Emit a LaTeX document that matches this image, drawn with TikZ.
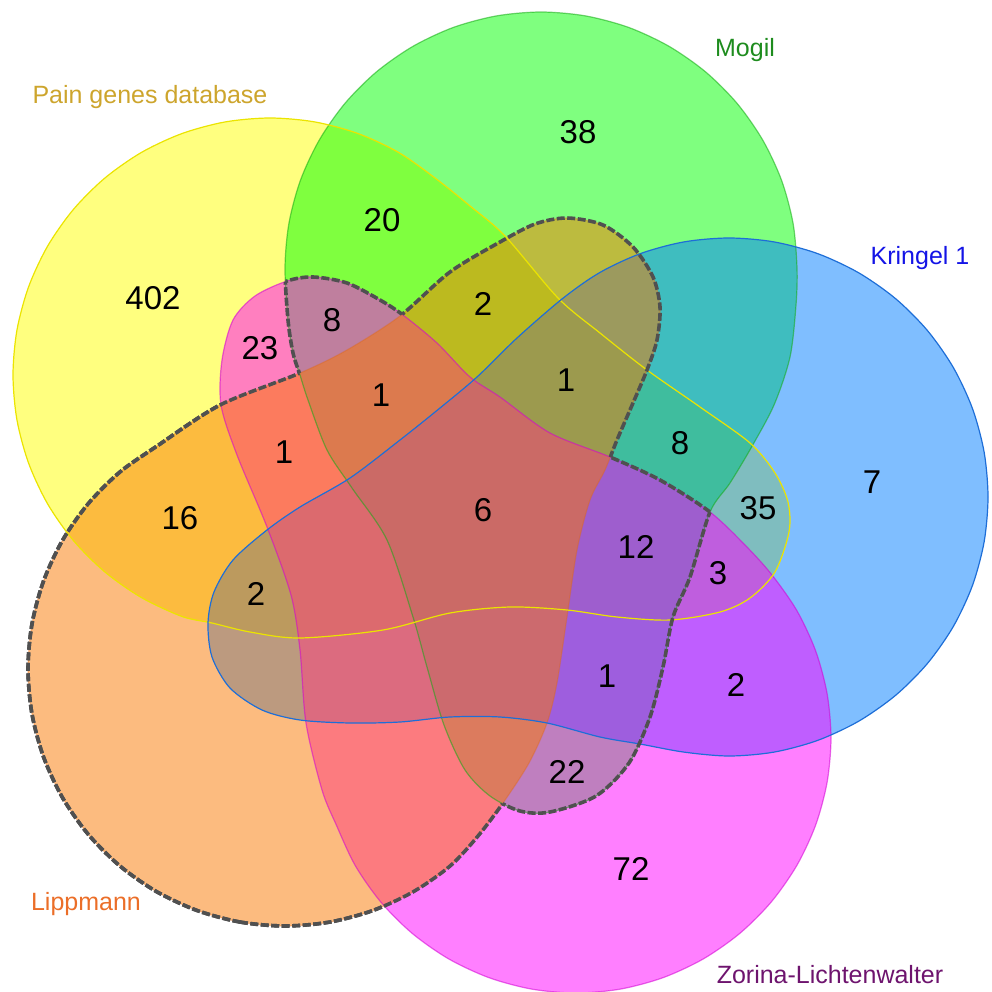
\documentclass[tikz,border=0pt]{standalone}
\usepackage{fontspec}
\setmainfont{Liberation Sans}
% set fills
\definecolor{cY}{RGB}{255,255,0}
\definecolor{cG}{RGB}{0,255,0}
\definecolor{cB}{RGB}{0,125,255}
\definecolor{cM}{RGB}{255,0,255}
\definecolor{cO}{RGB}{250,120,0}
% set outlines
\definecolor{lY}{RGB}{235,228,0}
\definecolor{lG}{RGB}{20,170,20}
\definecolor{lB}{RGB}{30,110,215}
\definecolor{lM}{RGB}{210,0,210}
\definecolor{lO}{RGB}{220,100,20}
\definecolor{hl}{RGB}{80,80,80}
% set titles
\definecolor{tY}{RGB}{205,165,45}
\definecolor{tG}{RGB}{30,140,30}
\definecolor{tB}{RGB}{20,20,230}
\definecolor{tO}{RGB}{235,110,40}
\definecolor{tM}{RGB}{110,20,110}
% outlines of the five sets: a round body with a lobe reaching across the middle
\newcommand\painpath{plot[smooth cycle] coordinates {
    (182.1,616.5) (141.5,597.6) (104.8,571.9) (73.1,540.2) (47.4,503.5)
    (28.5,462.9) (16.9,419.6) (13,375) (16.9,330.4) (28.5,287.1) (47.4,246.5)
    (73.1,209.8) (104.8,178.1) (141.5,152.4) (182.1,133.5) (225.4,121.9)
    (270,118) (314.6,121.9) (357.9,133.5) (398.5,152.4) (435.2,178.1)
    (470,206) (505,236) (558,298) (600,333) (647,370) (700,407) (750,443)
    (775,473) (788,502) (789,532) (775,572) (750,598) (720,612) (670,620)
    (617,617) (567,610) (510,607) (450,613) (383,630) (300,638) (250,632)
    (212,623)}}
\newcommand\mogilpath{plot[smooth cycle] coordinates {
    (541,12) (585.5,15.9) (628.6,27.4) (669,46.3) (705.6,71.9) (737.1,103.4)
    (762.7,140) (781.6,180.4) (793.1,223.5) (797,268) (796,305)
    (790,357) (774,405) (751,448) (730,483) (710,512) (690,577) (673,617)
    (663,667) (650,717) (629,763) (596,796) (550,812) (520,811) (490,796)
    (465,770) (444,725) (427,667) (413,617) (387,540) (352,488) (327,450)
    (308,400) (300,375) (293,353) (288,320) (285,268) (288.9,223.5)
    (300.4,180.4) (319.3,140) (344.9,103.4) (376.4,71.9) (413,46.3)
    (453.4,27.4) (496.5,15.9)}}
\newcommand\kringelpath{plot[smooth cycle] coordinates {
    (729,238) (774,241.9) (817.6,253.6) (858.5,272.7) (895.5,298.6)
    (927.4,330.5) (953.3,367.5) (972.4,408.4) (984.1,452) (988,497)
    (984.1,542) (972.4,585.6) (953.3,626.5) (927.4,663.5) (895.5,695.4)
    (858.5,721.3) (817.6,740.4) (774,752.1) (729,756) (684,752.1) (640,744)
    (600,737) (547,723) (500,717) (450,717) (400,722) (350,723) (300,720)
    (262,710) (230,688) (212,657) (208,623) (214,592) (233,560) (267,530)
    (300,507) (350,478) (400,440) (440,408) (477,377) (517,338) (562.5,298.6)
    (599.5,272.7) (640.4,253.6) (684,241.9)}}
\newcommand\zorinapath{plot[smooth cycle] coordinates {
    (831,738) (827.1,693.7) (815.6,650.8) (796.8,610.5) (771.3,574.1)
    (745,545) (710,512) (660,480) (610,457) (550,433) (500,397) (470,377)
    (437,343) (403,315) (380,300) (347,283) (313,277) (287,281) (255,296)
    (233,320) (222,360) (221,405) (237,455) (267,527) (291,595) (300,650)
    (306,723) (322,790) (336.4,825.2) (355.2,865.5) (380.7,901.9)
    (412.1,933.3) (448.5,958.8) (488.8,977.6) (531.7,989.1) (576,993)
    (620.3,989.1) (663.2,977.6) (703.5,958.8) (739.9,933.3) (771.3,901.9)
    (796.8,865.5) (815.6,825.2) (827.1,782.3)}}
\newcommand\lipppath{plot[smooth cycle] coordinates {
    (285,926) (240.4,922.1) (197.1,910.5) (156.5,891.6) (119.8,865.9)
    (88.1,834.2) (62.4,797.5) (43.5,756.9) (31.9,713.6) (28,669) (31.9,624.4)
    (43.5,581.1) (62.4,540.5) (88.1,503.8) (119.8,472.1) (156.5,446.4)
    (220,405) (300,373) (347,350) (400,316) (450,272) (500,242) (535,224)
    (567,218) (603,225) (633,247) (653,277) (660,307) (657,340) (647,370)
    (633,403) (617,440) (605,470) (590,500) (577,550) (567,617) (557,683)
    (547,723) (529,763) (503,803) (478,836) (450.2,865.9) (413.5,891.6)
    (372.9,910.5) (329.6,922.1)}}
\newcommand\outerframe{(-60,-60) rectangle (1060,1060)}
\begin{document}
\begin{tikzpicture}[x=1pt,y=-1pt,
  setfill/.style={fill=#1, fill opacity=0.5},
  outline/.style={draw=#1, line width=1.2pt},
  hlline/.style={draw=hl, line width=3.6pt, dash pattern=on 8pt off 2.5pt},
  num/.style={font=\fontsize{33}{37}\selectfont, text=black, inner sep=0pt},
  title/.style={font=\fontsize{25}{30}\selectfont, inner sep=0pt},
]
\useasboundingbox (0,0) rectangle (992,992);

% translucent set areas
\path[setfill=cY] \painpath;
\path[setfill=cG] \mogilpath;
\path[setfill=cB] \kringelpath;
\path[setfill=cM] \zorinapath;
\path[setfill=cO] \lipppath;

% thin set outlines
\path[outline=lG, draw opacity=0.55] \mogilpath;
\path[outline=lM, draw opacity=0.55] \zorinapath;
\path[outline=lO, draw opacity=0.35] \lipppath;
\path[outline=lY] \painpath;
\path[outline=lB] \kringelpath;

% dashed outline of Lippmann together with Mogil and Zorina-Lichtenwalter
\begin{scope}[even odd rule]
  \clip \outerframe \mogilpath;
  \path[hlline] \lipppath;
\end{scope}
\begin{scope}[even odd rule]
  \clip \outerframe \zorinapath;
  \path[hlline] \lipppath;
\end{scope}
\begin{scope}
  \clip \zorinapath;
  \begin{scope}[even odd rule]
    \clip \outerframe \lipppath;
    \path[hlline] \mogilpath;
  \end{scope}
\end{scope}
\begin{scope}
  \clip \mogilpath;
  \begin{scope}[even odd rule]
    \clip \outerframe \lipppath;
    \path[hlline] \zorinapath;
  \end{scope}
\end{scope}

% region counts
\node[num] (n38)  at (578,132) {38};
\node[num] (n402) at (153,298) {402};
\node[num] (n20)  at (382,220) {20};
\node[num] (n2a)  at (483,304) {2};
\node[num] (n7)   at (872,482) {7};
\node[num] (n8a)  at (332,320) {8};
\node[num] (n23)  at (260,348) {23};
\node[num] (n1a)  at (381,395) {1};
\node[num] (n1b)  at (566,380) {1};
\node[num] (n1c)  at (284,452) {1};
\node[num] (n8b)  at (680,443) {8};
\node[num] (n16)  at (180,518) {16};
\node[num] (n6)   at (483,510) {6};
\node[num] (n35)  at (758,508) {35};
\node[num] (n12)  at (636,547) {12};
\node[num] (n3)   at (718,573) {3};
\node[num] (n2b)  at (256,594) {2};
\node[num] (n1d)  at (607,676) {1};
\node[num] (n2c)  at (736,685) {2};
\node[num] (n22)  at (567,772) {22};
\node[num] (n72)  at (631,869) {72};

% set titles
\node[title, text=tY] (tpain)   at (150,97)  {Pain genes database};
\node[title, text=tG] (tmogil)  at (745,50)  {Mogil};
\node[title, text=tB] (tkring)  at (920,258) {Kringel 1};
\node[title, text=tO] (tlipp)   at (86,904)  {Lippmann};
\node[title, text=tM] (tzorina) at (830,975) {Zorina-Lichtenwalter};
\end{tikzpicture}
\end{document}
